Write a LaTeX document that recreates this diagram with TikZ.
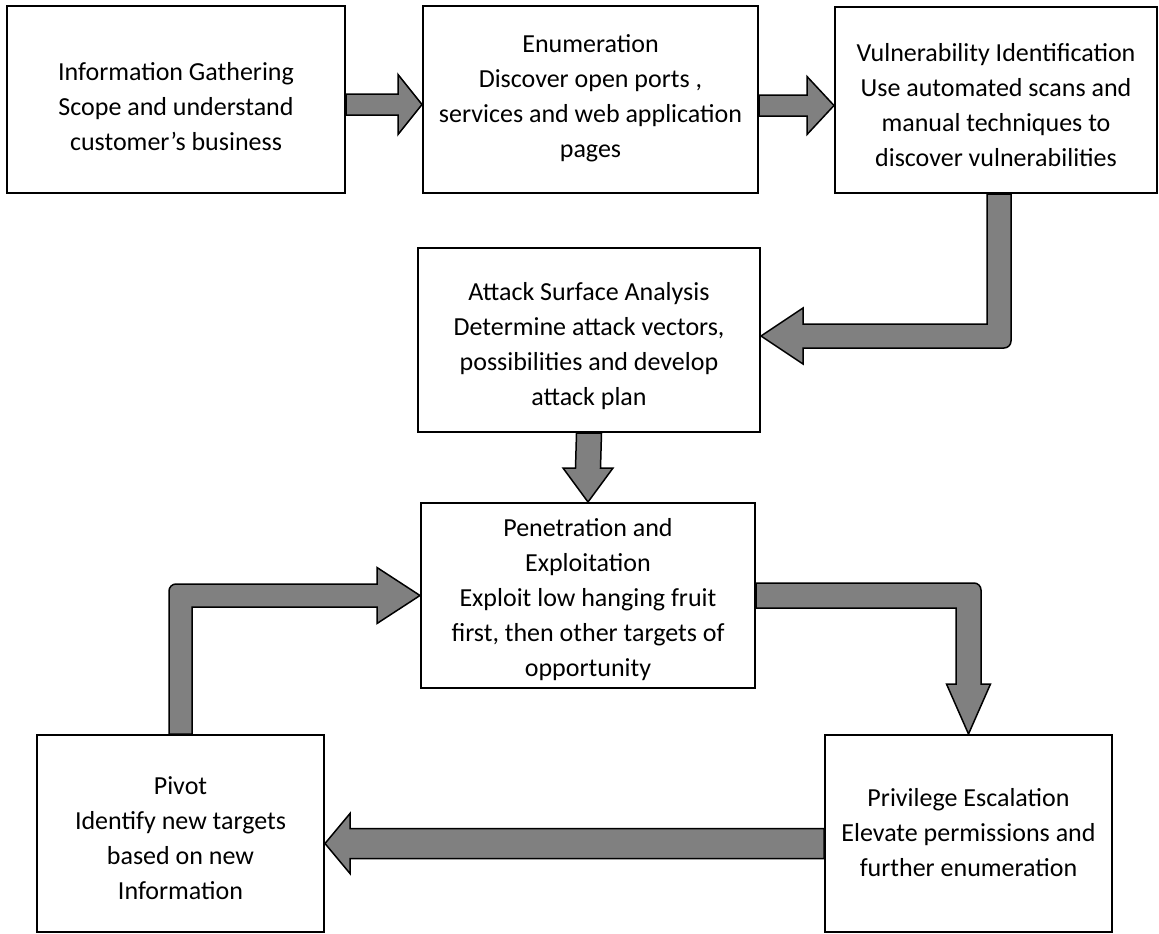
\documentclass[tikz,border=0pt]{standalone}
\usepackage{fontspec}
\setmainfont{Carlito}
\usetikzlibrary{calc}
\pgfdeclarelayer{bg}
\pgfsetlayers{bg,main}
\tikzset{
  box/.style={draw=black, line width=2pt, fill=white, inner sep=0pt},
  lbl/.style={inner sep=0pt, align=center, font=\fontsize{26}{35}\selectfont},
  blk/.style={draw=black, line width=1.5pt, fill=black!50, line join=miter},
}
% straight block arrows: start, tip, half shaft, half head, head length
\newcommand{\rarrow}[5]{\draw[blk] ($(#1)+(0,-#3)$) -- ($(#2)+(-#5,-#3)$) -- ($(#2)+(-#5,-#4)$) -- (#2) -- ($(#2)+(-#5,#4)$) -- ($(#2)+(-#5,#3)$) -- ($(#1)+(0,#3)$) -- cycle;}
\newcommand{\larrow}[5]{\draw[blk] ($(#1)+(0,-#3)$) -- ($(#2)+(#5,-#3)$) -- ($(#2)+(#5,-#4)$) -- (#2) -- ($(#2)+(#5,#4)$) -- ($(#2)+(#5,#3)$) -- ($(#1)+(0,#3)$) -- cycle;}
\newcommand{\darrow}[5]{\draw[blk] ($(#1)+(-#3,0)$) -- ($(#2)+(-#3,-#5)$) -- ($(#2)+(-#4,-#5)$) -- (#2) -- ($(#2)+(#4,-#5)$) -- ($(#2)+(#3,-#5)$) -- ($(#1)+(#3,0)$) -- cycle;}
\begin{document}
\begin{tikzpicture}[x=1pt,y=-1pt]
\useasboundingbox (0,0) rectangle (1159,934);
\node[box, minimum width=338pt, minimum height=187pt] (b1) at (176,99.5) {};
\node[box, minimum width=335pt, minimum height=187pt] (b2) at (590.5,99.5) {};
\node[box, minimum width=322pt, minimum height=186pt] (b3) at (996,100) {};
\node[box, minimum width=342pt, minimum height=184pt] (b4) at (589,340) {};
\node[box, minimum width=334pt, minimum height=185pt] (b5) at (588,595.5) {};
\node[box, minimum width=287pt, minimum height=197pt] (b6) at (180.5,833.5) {};
\node[box, minimum width=287pt, minimum height=197pt] (b7) at (968.5,833.5) {};

\node[lbl] (t1) at ($(b1.center)+(0,7)$) {Information Gathering\\Scope and understand\\customer’s business};
\node[lbl] (t2) at ($(b2.center)+(0,-1)$) {Enumeration\\Discover open ports ,\\services and web application\\pages};
\node[lbl] (t3) at ($(b3.center)+(0,5)$) {Vulnerability Identification\\Use automated scans and\\manual techniques to\\discover vulnerabilities};
\node[lbl] (t4) at ($(b4.center)+(0,6)$) {Attack Surface Analysis\\Determine attack vectors,\\possibilities and develop\\attack plan};
\node[lbl] (t5) at ($(b5.center)+(0,4)$) {Penetration and\\Exploitation\\Exploit low hanging fruit\\first, then other targets of\\opportunity};
\node[lbl] (t6) at ($(b6.center)+(0,5)$) {Pivot\\Identify new targets\\based on new\\Information};
\node[lbl] (t7) at ($(b7.center)+(0,-1)$) {Privilege Escalation\\Elevate permissions and\\further enumeration};

\begin{pgfonlayer}{bg}
% 1 -> 2
\coordinate (a1s) at ($(b1.east)+(0,5)$);
\coordinate (a1e) at (a1s -| b2.west);
\rarrow{a1s}{a1e}{10.5}{30}{24}
% 2 -> 3
\coordinate (a2s) at ($(b2.east)+(0,6)$);
\coordinate (a2e) at (a2s -| b3.west);
\rarrow{a2s}{a2e}{10.5}{29}{27}
% 3 -> 4 (elbow)
\coordinate (e1s) at ($(b3.south)+(3,0)$);
\coordinate (e1t) at ($(b4.east)+(0,-4)$);
\coordinate (e1c) at (e1s |- e1t);
\draw[blk] ($(e1s)+(12,0)$) [rounded corners=7pt] -- ($(e1c)+(12,12)$) [sharp corners] -- ($(e1t)+(42,12)$) -- ($(e1t)+(42,28)$) -- (e1t) -- ($(e1t)+(42,-28)$) -- ($(e1t)+(42,-12)$) -- ($(e1c)+(-12,-12)$) -- ($(e1s)+(-12,0)$) -- cycle;
% 4 -> 5
\darrow{b4.south}{b5.north}{12.5}{25}{34}
% 5 -> 7 (elbow)
\coordinate (e2c) at (b7.north |- b5.east);
\draw[blk] ($(b5.east)+(0,-12.5)$) [rounded corners=7pt] -- ($(e2c)+(12.5,-12.5)$) [sharp corners] -- ($(b7.north)+(12.5,-50)$) -- ($(b7.north)+(22,-50)$) -- (b7.north) -- ($(b7.north)+(-22,-50)$) -- ($(b7.north)+(-12.5,-50)$) -- ($(e2c)+(-12.5,12.5)$) -- ($(b5.east)+(0,12.5)$) -- cycle;
% 7 -> 6
\coordinate (a3s) at ($(b7.west)+(0,10)$);
\coordinate (a3e) at (a3s -| b6.east);
\larrow{a3s}{a3e}{15}{30}{25}
% 6 -> 5 (elbow)
\coordinate (e3c) at (b6.north |- b5.west);
\draw[blk] ($(b6.north)+(-11.5,0)$) [rounded corners=7pt] -- ($(e3c)+(-11.5,-11.5)$) [sharp corners] -- ($(b5.west)+(-43,-11.5)$) -- ($(b5.west)+(-43,-28)$) -- (b5.west) -- ($(b5.west)+(-43,28)$) -- ($(b5.west)+(-43,11.5)$) -- ($(e3c)+(11.5,11.5)$) -- ($(b6.north)+(11.5,0)$) -- cycle;
\end{pgfonlayer}
\end{tikzpicture}
\end{document}
